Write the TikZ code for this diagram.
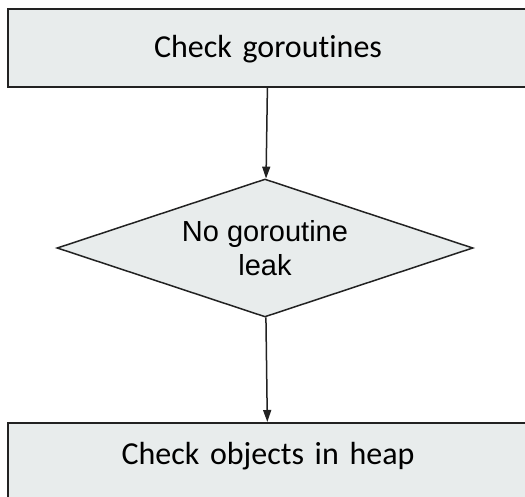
\documentclass[tikz,border=0pt]{standalone}
\usepackage{fontspec}
\setmainfont{Liberation Sans}
\newfontfamily\boxfont{Carlito}[Ligatures={NoCommon,NoRare,NoDiscretionary}]
\usepackage{tikz}
\usetikzlibrary{shapes.geometric, arrows.meta, positioning}

\definecolor{boxgray}{HTML}{E8ECEC}
\definecolor{linegray}{HTML}{222222}

\tikzset{
  stepbox/.style={rectangle, draw=linegray, line width=2pt, fill=boxgray,
    font=\boxfont\fontsize{32}{38}\selectfont, text width=520pt,
    inner xsep=0pt, align=center, text height=22pt},
  decision/.style={diamond, draw=linegray, line width=1.5pt, fill=boxgray,
    aspect=3, inner sep=0pt, minimum width=416pt, minimum height=138pt,
    font=\fontsize{29}{34}\selectfont, align=center},
  flow/.style={-{Triangle[length=12pt,width=8pt]}, line width=1.5pt, draw=linegray}
}

\begin{document}
\begin{tikzpicture}[x=1pt, y=1pt]
                \useasboundingbox (0,0) rectangle (525,-497);
                \clip (0,0) rectangle (525,-497);

                \node[stepbox, anchor=north west, minimum height=78pt, text depth=2pt] (check) at (7, -8) {Check goroutines};
                \node[decision] (leak) at (265, -248) {No goroutine\\leak};
                \node[stepbox, anchor=north west, minimum height=100pt, text depth=40pt] (heap) at (7, -422) {Check objects in heap};

                \draw[flow] (check) -- (leak);
                \draw[flow] (leak) -- (heap);
            \end{tikzpicture}
\end{document}
